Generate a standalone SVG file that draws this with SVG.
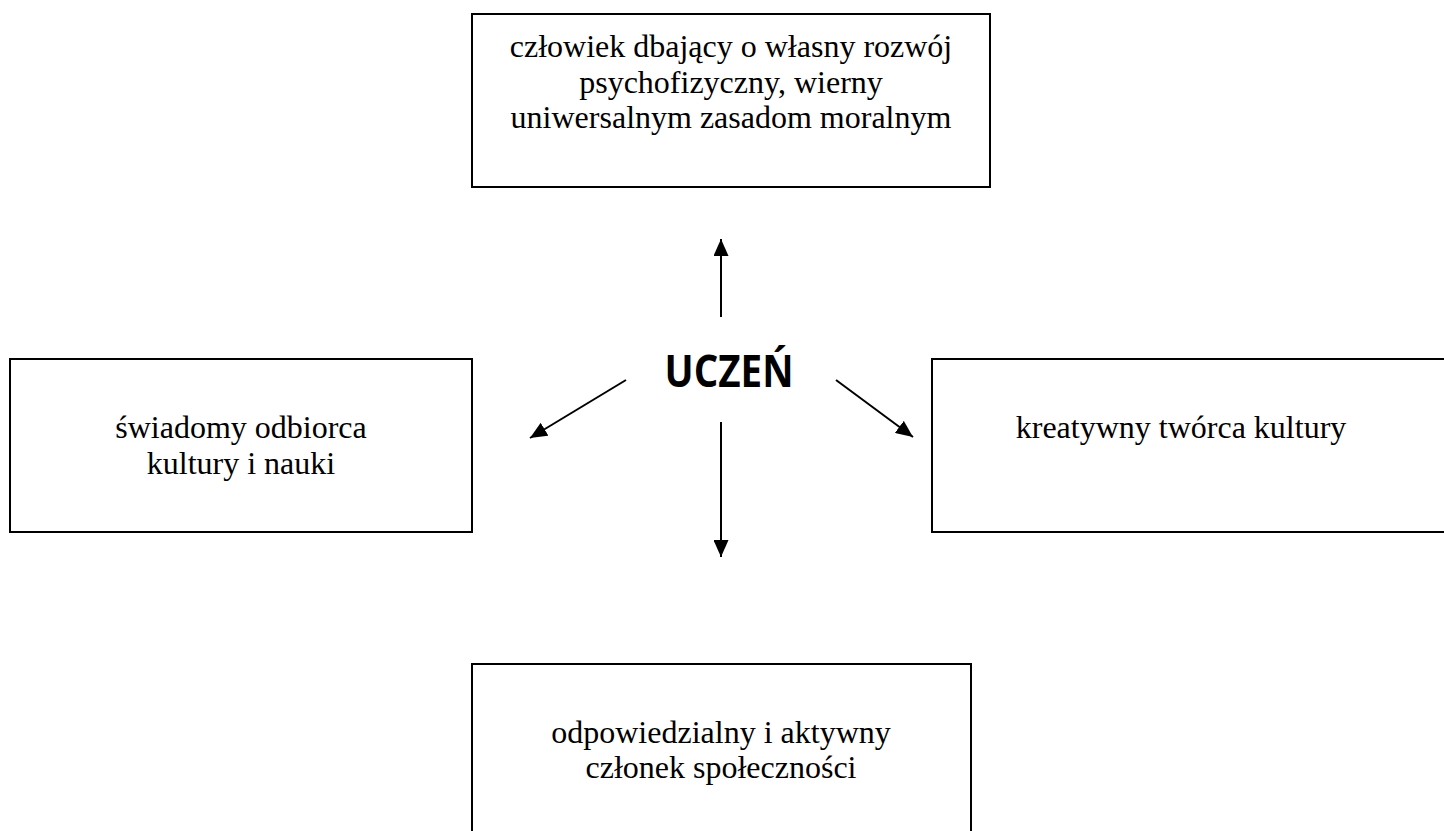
<svg xmlns="http://www.w3.org/2000/svg" width="1444" height="831" viewBox="0 0 1444 831">
<style>
.box{fill:#fff;stroke:#000;stroke-width:2}
.t{font-family:"Liberation Serif","Times New Roman",serif;font-size:32px;fill:#000;text-anchor:middle}
.c{font-family:"Open Sans","Lato",sans-serif;font-weight:bold;font-size:44px;fill:#000;text-anchor:middle}
.a{stroke:#000;stroke-width:2;fill:none;marker-end:url(#ah)}
</style>
<defs>
<marker id="ah" markerUnits="userSpaceOnUse" markerWidth="17" markerHeight="15" refX="17" refY="7.5" orient="auto">
<path d="M0,0 L17,7.5 L0,15 z" fill="#000"/>
</marker>
</defs>
<rect width="1444" height="831" fill="#fff"/>
<g id="node-top">
<rect class="box" x="472" y="14" width="518" height="173"/>
<text class="t" x="731" y="57">człowiek dbający o własny rozwój</text>
<text class="t" x="731" y="93">psychofizyczny, wierny</text>
<text class="t" x="731" y="128">uniwersalnym zasadom moralnym</text>
</g>
<g id="node-left">
<rect class="box" x="10" y="359" width="462" height="173"/>
<text class="t" x="241" y="438">świadomy odbiorca</text>
<text class="t" x="241" y="474">kultury i nauki</text>
</g>
<g id="node-right">
<rect class="box" x="932" y="359" width="530" height="173"/>
<text class="t" x="1181" y="438">kreatywny twórca kultury</text>
</g>
<g id="node-bottom">
<rect class="box" x="472" y="664" width="499" height="190"/>
<text class="t" x="721" y="743">odpowiedzialny i aktywny</text>
<text class="t" x="721" y="778">członek społeczności</text>
</g>
<g id="node-center">
<text class="c" x="729" y="387" textLength="129" lengthAdjust="spacingAndGlyphs">UCZEŃ</text>
</g>
<g id="connectors">
<line class="a" x1="721" y1="317" x2="721" y2="239"/>
<line class="a" x1="721" y1="422" x2="721" y2="557"/>
<line class="a" x1="626" y1="380" x2="530" y2="438"/>
<line class="a" x1="836" y1="380" x2="913" y2="437"/>
</g>
</svg>
